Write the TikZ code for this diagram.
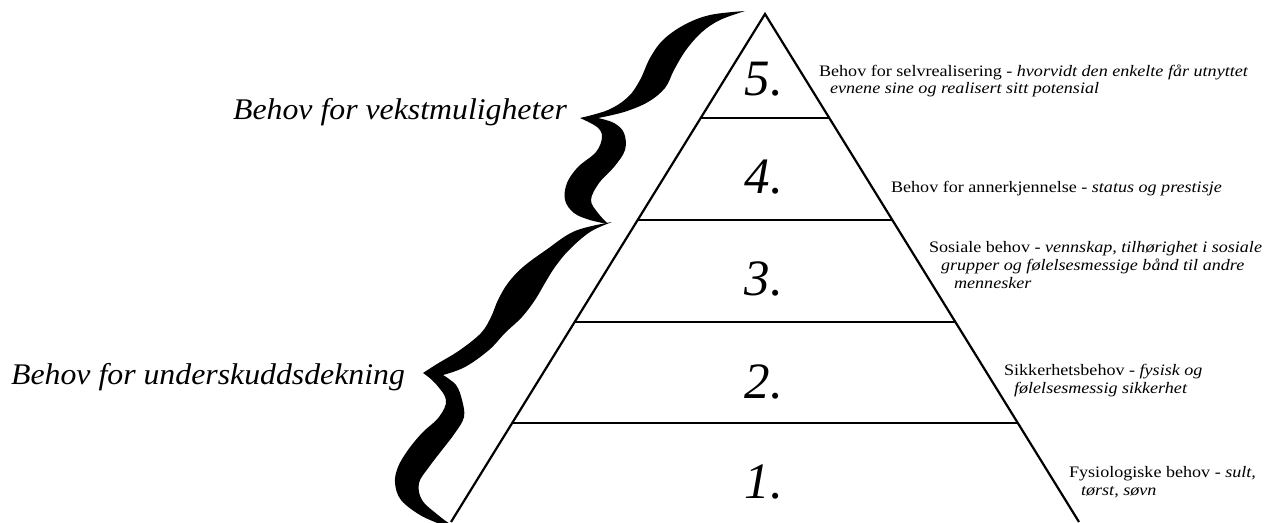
\documentclass[tikz,border=0pt]{standalone}
\usepackage{fontspec}
\usepackage{graphicx}
\setmainfont{Liberation Serif}
\usetikzlibrary{calc}
\newcommand\wx[1]{\scalebox{1.13}[1]{#1}}
\newcommand\wg[1]{\scalebox{1.06}[1]{#1}}
\begin{document}
\begin{tikzpicture}[x=1pt,y=-1pt, line width=2.2pt,
  num/.style={font=\fontsize{51}{60}\selectfont\itshape, anchor=base, inner sep=0pt},
  desc/.style={font=\fontsize{16}{18}\selectfont, anchor=base west, inner sep=0pt},
  grp/.style={font=\fontsize{30}{34}\selectfont\itshape, anchor=base west, inner sep=0pt},
  bracefill/.style={fill=black, draw=none}]
\useasboundingbox (0,0) rectangle (1276,522);
\coordinate (A) at (765,14);
\coordinate (BL) at (451,522);
\coordinate (BR) at (1079,522);
\draw[line join=miter] (BL) -- (A) -- (BR);
\foreach \t in {0.2047, 0.4055, 0.6063, 0.8051} {
  \draw ($(A)!\t!(BL)$) -- ($(A)!\t!(BR)$);
}
\node[num] (n5) at (764,95) {5.};
\node[num] (n4) at (764,193) {4.};
\node[num] (n3) at (764,295) {3.};
\node[num] (n2) at (764,398) {2.};
\node[num] (n1) at (764,498) {1.};
\node[desc] (t5a) at (818,76) {\wx{Behov for selvrealisering - \textit{hvorvidt den enkelte får utnyttet}}};
\node[desc] (t5b) at (829,93) {\wx{\textit{evnene sine og realisert sitt potensial}}};
\node[desc] (t4) at (890,192) {\wx{Behov for annerkjennelse - \textit{status og prestisje}}};
\node[desc] (t3a) at (928,252) {\wx{Sosiale behov - \textit{vennskap, tilhørighet i sosiale}}};
\node[desc] (t3b) at (940,270) {\wx{\textit{grupper og følelsesmessige bånd til andre}}};
\node[desc] (t3c) at (953,288) {\wx{\textit{mennesker}}};
\node[desc] (t2a) at (1003,375) {\wx{Sikkerhetsbehov - \textit{fysisk og}}};
\node[desc] (t2b) at (1013,393) {\wx{\textit{følelsesmessig sikkerhet}}};
\node[desc] (t1a) at (1068,477) {\wx{Fysiologiske behov - \textit{sult,}}};
\node[desc] (t1b) at (1080,495) {\wx{\textit{tørst, søvn}}};
\node[grp] (g1) at (232,119) {\wg{Behov for vekstmuligheter}};
\node[grp] (g2) at (10,384) {\wg{Behov for underskuddsdekning}};
% upper brace
\fill[bracefill] plot[smooth, tension=0.6] coordinates {(745,11) (710,15) (684,25) (663,40) (650,58) (640,80) (628,97) (608,110) (580,118)}
  -- plot[smooth, tension=0.6] coordinates {(580,118) (597,127) (602,137) (596,152) (578,167) (567,183) (565,200) (574,213) (590,220) (608,224)}
  -- plot[smooth, tension=0.6] coordinates {(608,224) (598,213) (591,200) (599,183) (614,167) (625,150) (624,133) (614,123) (598,118)}
  -- plot[smooth, tension=0.6] coordinates {(598,118) (624,112) (648,102) (665,88) (674,70) (686,50) (702,32) (720,20) (745,11)}
  -- cycle;
% lower brace
\fill[bracefill] plot[smooth, tension=0.6] coordinates {(612,222) (575,231) (546,250) (523,267) (508,283) (498,300) (491,317) (481,333) (460,350) (437,364) (423,373)}
  -- plot[smooth, tension=0.6] coordinates {(423,373) (435,383) (446,400) (439,417) (422,433) (408,450) (398,467) (395,483) (401,500) (420,515) (440,524)}
  -- plot[smooth, tension=0.6] coordinates {(450,524) (438,515) (422,500) (419,483) (429,467) (442,450) (455,433) (464,417) (462,400) (456,385) (443,375)}
  -- plot[smooth, tension=0.6] coordinates {(443,375) (465,367) (489,350) (505,333) (522,317) (535,300) (545,283) (555,267) (569,250) (590,232) (612,222)}
  -- cycle;
\end{tikzpicture}
\end{document}
